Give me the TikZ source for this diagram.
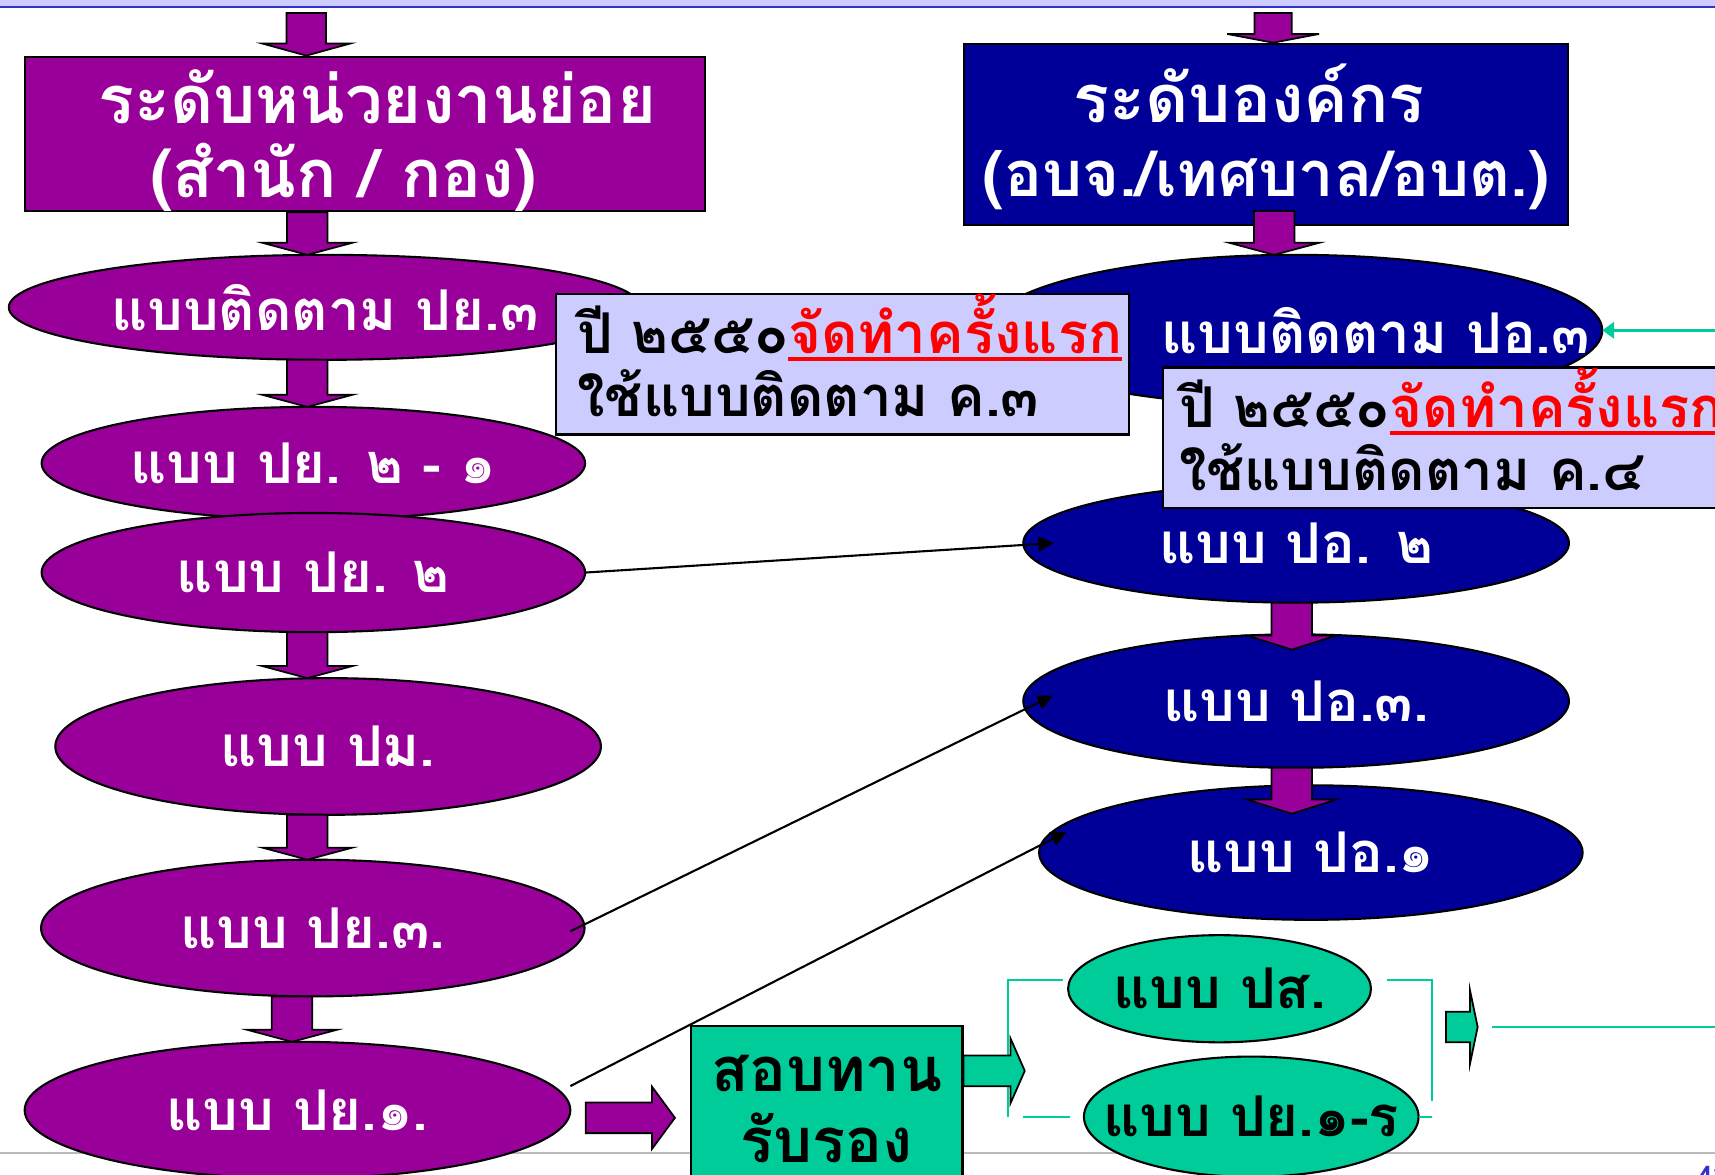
\documentclass[tikz,border=0pt]{standalone}
\usepackage{fontspec}
\setmainfont[Script=Thai]{Loma}
\usetikzlibrary{calc,arrows.meta,shapes.geometric}
\definecolor{ppl}{HTML}{990099}
\definecolor{nvy}{HTML}{000099}
\definecolor{grn}{HTML}{00CC99}
\definecolor{lav}{HTML}{CCCCFF}
\definecolor{bandblue}{HTML}{3333CC}
\definecolor{grayln}{HTML}{BBBBBB}
\definecolor{rd}{HTML}{FF0000}
\newcommand\upx{0.3112pt}
\newcommand\redul[1]{{\color{rd}\setbox0\hbox{#1}\rlap{\rule[-2.2pt]{\wd0}{1.15pt}}\box0}}
% down block arrow: style, top point, tip point, shaft half, head half, head length
\newcommand\bdown[6]{\path[#1] let \p1=#2, \p2=#3 in
  (\x2-#4*\upx,\y1) -- (\x2-#4*\upx,\y2+#6*\upx) -- (\x2-#5*\upx,\y2+#6*\upx) -- (\x2,\y2)
  -- (\x2+#5*\upx,\y2+#6*\upx) -- (\x2+#4*\upx,\y2+#6*\upx) -- (\x2+#4*\upx,\y1) -- cycle;}
% right block arrow: style, tail point, tip point, shaft half, head half, head length
\newcommand\bright[6]{\path[#1] let \p1=#2, \p2=#3 in
  (\x1,\y2+#4*\upx) -- (\x2-#6*\upx,\y2+#4*\upx) -- (\x2-#6*\upx,\y2+#5*\upx) -- (\x2,\y2)
  -- (\x2-#6*\upx,\y2-#5*\upx) -- (\x2-#6*\upx,\y2-#4*\upx) -- (\x1,\y2-#4*\upx) -- cycle;}
\tikzset{
  pbox/.style={rectangle, draw=black, line width=0.6pt, fill=ppl, text=white, align=center,
    font=\fontsize{19}{21}\selectfont\bfseries, inner sep=0pt},
  nbox/.style={pbox, fill=nvy},
  gbx/.style={pbox, fill=grn, text=black, font=\fontsize{17.5}{20}\selectfont\bfseries},
  ell/.style={ellipse, draw=black, line width=0.6pt, inner sep=0pt, outer sep=0pt,
    font=\fontsize{16}{18}\selectfont\bfseries},
  pell/.style={ell, fill=ppl, text=white},
  nell/.style={ell, fill=nvy, text=white},
  gell/.style={ell, fill=grn, text=black},
  note/.style={rectangle, draw=black, line width=0.6pt, fill=lav, text=black, align=left,
    anchor=north west, inner ysep=0pt, font=\fontsize{16}{18}\selectfont\bfseries},
  barrow/.style={draw=black, line width=0.5pt, fill=ppl},
  garrow/.style={draw=black, line width=0.5pt, fill=grn},
  conn/.style={draw=black, line width=0.6pt, -{Triangle[length=4.4pt,width=4.2pt]}},
  gconn/.style={draw=grn, line width=0.7pt, -{Triangle[length=3.4pt,width=4.7pt]}},
  gline/.style={draw=grn, line width=0.6pt}
}
\begin{document}
\begin{tikzpicture}[x=0.010938cm, y=-0.010938cm]
\useasboundingbox (0,0) rectangle (1568,1074);
% background band and bottom rule
\fill[lav] (0,0) rectangle (1568,6);
\draw[bandblue, line width=0.6pt] (0,6.8) -- (1568,6.8);
\draw[grayln, line width=0.6pt] (0,1054) -- (1568,1054);
\node[anchor=north west, text=bandblue, inner sep=0pt, font=\fontsize{8}{9}\selectfont\bfseries] (pg) at (1551,1066) {43};

% header boxes
\node[pbox, minimum width=622*\upx, minimum height=137*\upx] (boxL) at (334,122.5)
  {\rule{0pt}{19pt}\hspace*{6.8pt}ระดับหน่วยงานย่อย\\(สำนัก / กอง)\hspace*{12.4pt}};
\node[nbox, minimum width=553*\upx, minimum height=166*\upx] (boxR) at (1157.5,123)
  {\rule{0pt}{18pt}ระดับองค์กร\hspace*{9.6pt}\\{\fontsize{18}{21}\selectfont(อบจ./เทศบาล/อบต.)}};

% left column ellipses
\node[pell, minimum width=578*\upx, minimum height=96*\upx] (e1) at (297,281) {\makebox[0pt]{แบบติดตาม ปย.๓}};
\node[pell, minimum width=497*\upx, minimum height=103*\upx] (e2) at (286.5,423.5) {\makebox[0pt]{แบบ ปย. ๒ - ๑}};
\node[pell, minimum width=497*\upx, minimum height=109*\upx] (e3) at (286.5,523.5) {\makebox[0pt]{แบบ ปย. ๒}};
\node[pell, minimum width=499*\upx, minimum height=125*\upx] (e4) at (300,682.5) {\makebox[0pt]{แบบ ปม.}};
\node[pell, minimum width=497*\upx, minimum height=125*\upx] (e5) at (286,848.5) {\makebox[0pt]{แบบ ปย.๓.}};
\node[pell, minimum width=499*\upx, minimum height=125*\upx] (e6) at (272,1015) {\makebox[0pt]{แบบ ปย.๑.}};

% right column ellipses
\node[nell, minimum width=562*\upx, minimum height=138*\upx] (r1) at (1184,302) {\makebox[0pt]{\hspace*{46pt}แบบติดตาม ปอ.๓}};
\node[nell, minimum width=499*\upx, minimum height=109*\upx] (r2) at (1185,496.5) {\makebox[0pt]{แบบ ปอ. ๒}};
\node[nell, minimum width=499*\upx, minimum height=122*\upx] (r3) at (1185,641) {\makebox[0pt]{แบบ ปอ.๓.}};
\node[nell, minimum width=497*\upx, minimum height=123*\upx] (r4) at (1198.5,779.5) {\makebox[0pt]{แบบ ปอ.๑}};

% green part
\node[gbx, minimum width=248*\upx, minimum height=152*\upx] (gbox) at (756,1014) {สอบทาน\\รับรอง};
\node[gell, minimum width=277*\upx, minimum height=98*\upx] (pss) at (1115,904) {\makebox[0pt]{แบบ ปส.}};
\node[gell, minimum width=306*\upx, minimum height=110*\upx] (pyr) at (1144,1021) {\makebox[0pt]{แบบ ปย.๑-ร}};

% green bracket lines
\draw[gline] ($(pss.west)+(-5,-8)$) -- ++(-50,0) -- ++(0,125);
\draw[gline] ($(pyr.west)+(-13,0)$) -- ++(-43,0);
\draw[gline] ($(pss.east)+(15,-8)$) -- ++(41,0) -- ++(0,111);
\draw[gline] (pyr.east) -- ++(12,0);
\coordinate (gl0) at (1364,939);
\coordinate (gl1) at (1600,939);
\draw[gline] (gl0) -- (gl1);

% thin connectors
\draw[conn] (e3.east) -- ($(r2.west)+(28,0)$);
\draw[conn] ($(e5.east)+(-13,3)$) -- ($(r3.west)+(27,-5)$);
\draw[conn] ($(e6.east)+(0,-22)$) -- ($(r4.west)+(25,-19)$);
\coordinate (gin) at (1600,302);
\draw[gconn] (gin) -- (r1.east);

% block arrows
\coordinate (la0) at (280,12);
\coordinate (lax) at (281,0);
\coordinate (lbx) at (267,0);
\coordinate (ra0) at (1164,12);
\coordinate (rax) at (1165,0);
\coordinate (rbx) at (1181,0);
\bdown{barrow}{(la0)}{(la0 |- boxL.north)}{18}{40}{11}
\bdown{barrow}{(lax |- boxL.south)}{(lax |- e1.north)}{18.5}{41}{11}
\bdown{barrow}{(lax |- e1.south)}{(lax |- e2.north)}{18.5}{41}{11}
\bdown{barrow}{(lax |- e3.south)}{(lax |- e4.north)}{18.5}{41}{11}
\bdown{barrow}{(lax |- e4.south)}{(lax |- e5.north)}{18.5}{41}{11}
\bdown{barrow}{(lbx |- e5.south)}{(lbx |- e6.north)}{18.5}{41}{11}
\bdown{barrow}{(ra0)}{(ra0 |- boxR.north)}{17}{42}{8}
\bdown{barrow}{($(rax |- boxR.south)+(0,-14)$)}{(rax |- r1.north)}{18.5}{41}{11}
\bdown{barrow}{(rbx |- r2.south)}{($(rbx |- r2.south)+(0,43)$)}{18.5}{41}{13}
\bdown{barrow}{(rbx |- r3.south)}{($(rbx |- r3.south)+(0,42)$)}{18.5}{41}{13}
\coordinate (a7t) at ($(e6.east)+(14,7)$);
\bright{barrow}{(a7t)}{($(gbox.west |- a7t)+(-14,0)$)}{14}{28.5}{21}
\coordinate (a8t) at ($(gbox.north east)+(0,42)$);
\bright{garrow}{(a8t)}{($(a8t)+(56,0)$)}{14}{29.5}{13}
\coordinate (a9t) at (1322,939);
\coordinate (a9e) at (1351,939);
\bright{garrow}{(a9t)}{(a9e)}{14}{33.5}{7}

% callouts
\node[note, minimum width=524*\upx, minimum height=121*\upx, text width=5.294cm, inner xsep=0.219cm] (c1) at (507,268)
  {\mbox{ปี ๒๕๕๐\redul{จัดทำครั้งแรก}}\\\mbox{ใช้แบบติดตาม ค.๓}\rule[-5pt]{0pt}{5pt}};
\node[note, minimum width=578*\upx, minimum height=119*\upx, text width=5.994cm, inner xsep=0.164cm] (c2) at (1062,335)
  {\mbox{ปี ๒๕๕๐\redul{จัดทำครั้งแรก}}\\\mbox{ใช้แบบติดตาม ค.๔}\rule[-5pt]{0pt}{5pt}};
\end{tikzpicture}
\end{document}
